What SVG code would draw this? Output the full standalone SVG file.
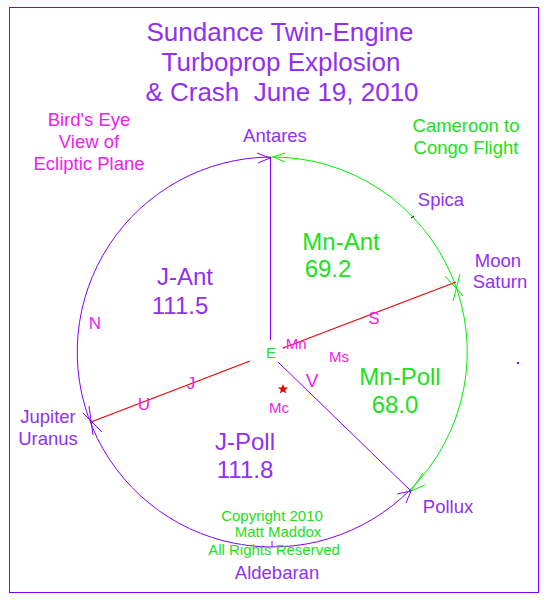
<svg xmlns="http://www.w3.org/2000/svg" width="548" height="600" viewBox="0 0 548 600">
<style>
text{font-family:"Liberation Sans",Arial,sans-serif;text-anchor:middle;white-space:pre}
.p{fill:#9030f5}
.m{fill:#f020f0}
.g{fill:#20e020}
.t{font-size:26px}
.l{font-size:18.5px}
.b{font-size:24px}
.s{font-size:15px}
.lp{stroke:#8000ff;stroke-width:1;fill:none}
.lg{stroke:#00ee00;stroke-width:1;fill:none}
.lr{stroke:#ee0000;stroke-width:1.2;fill:none}
</style>
<rect x="9.5" y="7.5" width="529" height="585" fill="none" stroke="#7f00ff" stroke-width="1"/>
<g id="title">
<text class="p t" x="280" y="41">Sundance Twin-Engine</text>
<text class="p t" x="281" y="71">Turboprop Explosion</text>
<text class="p t" x="282" y="101" xml:space="preserve">&amp; Crash  June 19, 2010</text>
</g>
<g id="caption-left">
<text class="m l" x="89" y="126">Bird's Eye</text>
<text class="m l" x="89" y="148">View of</text>
<text class="m l" x="89" y="170">Ecliptic Plane</text>
</g>
<g id="caption-right">
<text class="g l" x="466" y="132">Cameroon to</text>
<text class="g l" x="466" y="154">Congo Flight</text>
</g>
<g id="connectors">
<path class="lg" d="M270 157 A195 195 0 0 1 410 490"/>
<path class="lp" d="M410 490 A195 195 0 1 1 270 157"/>
<line class="lp" x1="270.5" y1="157" x2="270.5" y2="340"/>
<line class="lp" x1="278" y1="362" x2="411" y2="491"/>
<line class="lr" x1="91" y1="422" x2="250" y2="361"/>
<line class="lr" x1="283" y1="348" x2="456" y2="282"/>
<path class="lp" d="M257 153 L270 158 L258 163"/>
<path class="lg" d="M285 153 L273 157 L285 162"/>
<path class="lg" d="M445 276 L463 296 M460 274 L453 301"/>
<path class="lg" d="M423 473 L411 491 L425 485"/>
<path class="lp" d="M397 494 L411 491 L406 503"/>
<path class="lp" d="M83 413 L102 432 M89 406 L93 435"/>
<line x1="411" y1="218" x2="414" y2="216" stroke="#000" stroke-width="1"/>
<line x1="272" y1="541" x2="272" y2="547" stroke="#8000ff" stroke-width="1"/>
<rect x="517" y="362" width="2" height="2" fill="#8000ff"/>
</g>
<g id="antares"><text class="p l" x="275" y="142">Antares</text></g>
<g id="spica"><text class="p l" x="441" y="206">Spica</text></g>
<g id="moon-saturn">
<text class="p l" x="498" y="267">Moon</text>
<text class="p l" x="500" y="288">Saturn</text>
</g>
<g id="jupiter-uranus">
<text class="p l" x="48" y="423">Jupiter</text>
<text class="p l" x="48" y="445">Uranus</text>
</g>
<g id="pollux"><text class="p l" x="448" y="513">Pollux</text></g>
<g id="aldebaran"><text class="p l" x="277" y="579">Aldebaran</text></g>
<g id="copyright">
<text class="g s" x="272" y="521">Copyright 2010</text>
<text class="g s" x="278" y="537">Matt Maddox</text>
<text class="g s" x="274" y="555">All Rights Reserved</text>
</g>
<g id="mn-ant">
<text class="g b" x="341" y="250">Mn-Ant</text>
<text class="g b" x="328" y="277">69.2</text>
</g>
<g id="j-ant">
<text class="p b" x="185" y="285">J-Ant</text>
<text class="p b" x="180" y="314">111.5</text>
</g>
<g id="mn-poll">
<text class="g b" x="400" y="385">Mn-Poll</text>
<text class="g b" x="395" y="413">68.0</text>
</g>
<g id="j-poll">
<text class="p b" x="245" y="450">J-Poll</text>
<text class="p b" x="245" y="478">111.8</text>
</g>
<g id="markers">
<text class="m" x="95" y="329" style="font-size:17px">N</text>
<text class="m" x="144" y="410" style="font-size:17px">U</text>
<text class="m" x="191" y="389" style="font-size:17px">J</text>
<text class="m" x="374" y="324" style="font-size:17px">S</text>
<text class="m" x="312" y="387" style="font-size:19px">V</text>
<text class="m" x="339" y="362" style="font-size:15px">Ms</text>
<text class="m" x="294" y="349" style="font-size:15px">.Mn</text>
<text class="g" x="271" y="358" style="font-size:15px">E</text>
<text class="m" x="279" y="413" style="font-size:15px">Mc</text>
<polygon points="283,384 284.4,387.6 288.2,387.6 285.1,389.9 286.3,393.6 283,391.4 279.7,393.6 280.9,389.9 277.8,387.6 281.6,387.6" fill="#ee0000"/>
</g>
</svg>
